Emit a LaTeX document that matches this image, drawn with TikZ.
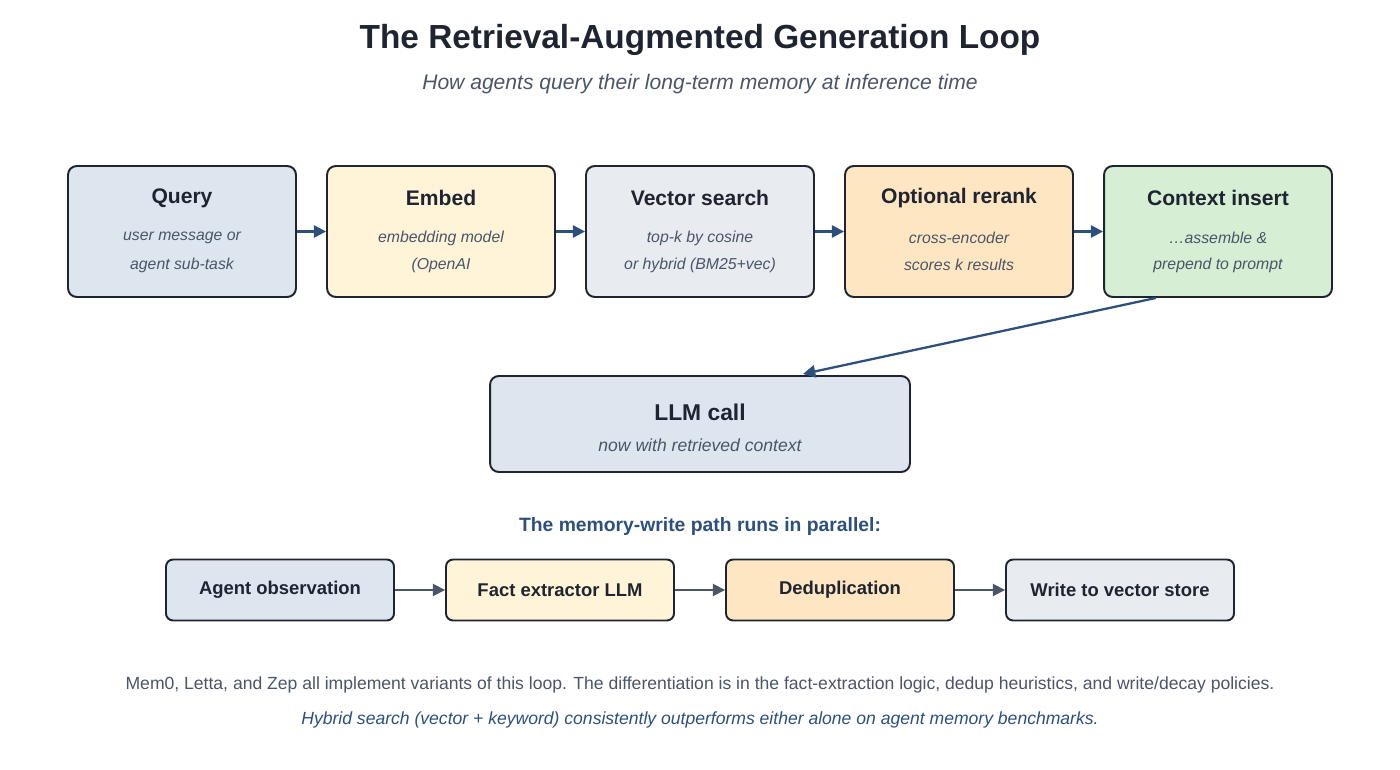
\documentclass[tikz,border=0pt]{standalone}
\usepackage{fontspec}
\setmainfont{Liberation Sans}
\usetikzlibrary{positioning, calc, arrows.meta}
\definecolor{inkdark}{HTML}{1E2430}
\definecolor{inkgray}{HTML}{4A5568}
\definecolor{inkblue}{HTML}{2C4F7C}
\definecolor{fillblue}{HTML}{DDE6EF}
\definecolor{fillyellow}{HTML}{FFF4D8}
\definecolor{fillgray}{HTML}{E8EBF0}
\definecolor{fillorange}{HTML}{FFE6C2}
\definecolor{fillgreen}{HTML}{D6EFD4}
\tikzset{
  stage/.style={draw=inkdark, line width=1.1pt, rounded corners=5pt, minimum width=4.56cm, minimum height=2.62cm},
  wstage/.style={draw=inkdark, line width=1.1pt, rounded corners=4pt, minimum width=4.56cm, minimum height=1.22cm, font=\fontsize{10.5}{12}\selectfont\bfseries, text=inkdark},
  head/.style={font=\fontsize{12}{14}\selectfont\bfseries, text=inkdark},
  note/.style={font=\fontsize{9}{11}\selectfont\itshape, text=inkgray},
  flow/.style={-{Triangle[length=7pt,width=7pt]}, draw=inkblue, fill=inkblue, line width=1.3pt},
  wflow/.style={-{Triangle[length=7pt,width=7pt]}, draw=inkgray, fill=inkgray, line width=1pt}
}
\begin{document}
\begin{tikzpicture}[x=0.02cm, y=-0.02cm]
    \useasboundingbox (0,0) rectangle (1400,770);
    % Title
    \node[font=\fontsize{19}{22}\selectfont\bfseries, text=inkdark] (title) at (700,40) {The Retrieval-Augmented Generation Loop};
    \node[font=\fontsize{12}{14}\selectfont\itshape, text=inkgray] (subtitle) at (700,84) {How agents query their long-term memory at inference time};

    % Read path
    \foreach \name/\x/\col/\hd/\la/\lb in {query/182/fillblue/Query/user message or/agent sub-task,
        embed/441/fillyellow/Embed/embedding model/(OpenAI / BGE / Voyage),
        search/700/fillgray/Vector search/top-k by cosine/or hybrid (BM25+vec),
        rerank/959/fillorange/Optional rerank/cross-encoder/scores k results,
        insert/1218/fillgreen/Context insert/\dots assemble \&/prepend to prompt} {
        \node[stage, fill=\col] (\name) at (\x,231.5) {};
        \node[head] at (\x,198) {\hd};
        \node[note] at (\x,238) {\la};
        \node[note] at (\x,265) {\lb};
    }
    \draw[flow] (query) -- (embed);
    \draw[flow] (embed) -- (search);
    \draw[flow] (search) -- (rerank);
    \draw[flow] (rerank) -- (insert);

    % LLM call
    \node[stage, fill=fillblue, minimum width=8.4cm, minimum height=1.92cm] (llm) at (700,424) {};
    \node[head, font=\fontsize{13}{15}\selectfont\bfseries] at (700,412) {LLM call};
    \node[note, font=\fontsize{10}{12}\selectfont\itshape] at (700,445) {now with retrieved context};
    \coordinate (llmin) at (803,374);
    \draw[flow] ($(insert.south west)!0.23!(insert.south east)$) -- (llmin);

    % Write path
    \node[font=\fontsize{11}{13}\selectfont\bfseries, text=inkblue] (wtitle) at (700,527) {The memory-write path runs in parallel:};
    \node[wstage, fill=fillblue] (observe) at (280,590) {Agent observation};
    \node[wstage, fill=fillyellow] (extract) at (560,590) {Fact extractor LLM};
    \node[wstage, fill=fillorange] (dedup) at (840,590) {Deduplication};
    \node[wstage, fill=fillgray] (write) at (1120,590) {Write to vector store};
    \draw[wflow] (observe) -- (extract);
    \draw[wflow] (extract) -- (dedup);
    \draw[wflow] (dedup) -- (write);

    % Footer
    \node[font=\fontsize{10}{12}\selectfont, text=inkgray] (foot) at (700,685) {Mem0, Letta, and Zep all implement variants of this loop. The differentiation is in the fact-extraction logic, dedup heuristics, and write/decay policies.};
    \node[font=\fontsize{10}{12}\selectfont\itshape, text=inkblue] (hint) at (700,720) {Hybrid search (vector + keyword) consistently outperforms either alone on agent memory benchmarks.};
\end{tikzpicture}
\end{document}
